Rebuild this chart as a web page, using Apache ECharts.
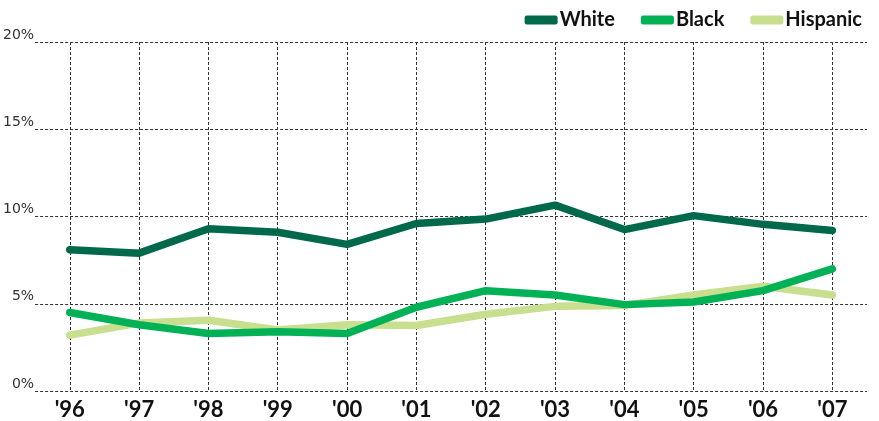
<!DOCTYPE html>
<html>
<head>
<meta charset="utf-8">
<script src="https://cdn.jsdelivr.net/npm/echarts@6/dist/echarts.min.js"></script>
<style>
  html, body { margin: 0; padding: 0; background: #fff; }
  #chart { width: 879px; height: 421px; }
</style>
</head>
<body>
<div id="chart"></div>
<script>
const years = ["'96", "'97", "'98", "'99", "'00", "'01", "'02", "'03", "'04", "'05", "'06", "'07"];
const white = [8.1, 7.9, 9.3, 9.1, 8.4, 9.6, 9.85, 10.65, 9.25, 10.05, 9.55, 9.2];
const black = [4.5, 3.8, 3.3, 3.4, 3.3, 4.8, 5.75, 5.5, 4.95, 5.1, 5.75, 7.0];
const hispanic = [3.2, 3.9, 4.05, 3.5, 3.8, 3.75, 4.4, 4.85, 4.9, 5.5, 6.0, 5.5];

const chart = echarts.init(document.getElementById('chart'));

// dotted grid, same for both axes
const gridDash = {
  color: '#333',
  width: 1,
  type: [3, 2]
};

function line(name, data, color) {
  return {
    name: name,
    type: 'line',
    data: data,
    symbol: 'none',
    itemStyle: { color: color },
    lineStyle: { color: color, width: 7.5, cap: 'round', join: 'round' }
  };
}

const option = {
  animation: false,
  legend: {
    right: 12,
    top: 5,
    itemWidth: 33,
    itemHeight: 9,
    itemGap: 26,
    icon: 'roundRect',
    textStyle: {
      fontFamily: 'Lato',
      fontWeight: 'bold',
      fontSize: 20,
      color: '#111',
      padding: [0, 0, 0, -3]
    },
    data: ['White', 'Black', 'Hispanic']
  },
  grid: { left: 35, right: 12, top: 42, bottom: 27 },
  xAxis: {
    type: 'category',
    data: years,
    boundaryGap: true,
    axisLine: { show: false },
    axisTick: { show: false },
    axisLabel: {
      margin: 8,
      fontFamily: 'Lato',
      fontWeight: 'bold',
      fontSize: 22,
      color: '#111'
    },
    splitLine: { show: true, alignWithLabel: true, lineStyle: gridDash }
  },
  yAxis: {
    type: 'value',
    min: 0,
    max: 20,
    interval: 5,
    axisLine: { show: false },
    axisTick: { show: false },
    axisLabel: {
      formatter: '{value}%',
      fontFamily: 'DejaVu Sans',
      fontSize: 14,
      color: '#333',
      margin: 1,
      verticalAlign: 'bottom',
      padding: [0, 0, 0, 0]
    },
    splitLine: { show: true, lineStyle: gridDash }
  },
  series: [
    line('Hispanic', hispanic, '#c8df8f'),
    line('Black', black, '#00b156'),
    line('White', white, '#00684b')
  ]
};

chart.setOption(option);
</script>
</body>
</html>
